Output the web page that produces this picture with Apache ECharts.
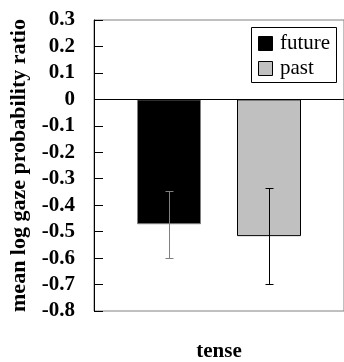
<!DOCTYPE html>
<html>
<head>
<meta charset="utf-8">
<script src="https://cdn.jsdelivr.net/npm/echarts@6/dist/echarts.min.js"></script>
<style>
  html, body { margin: 0; padding: 0; background: #fff; }
  #chart { width: 344px; height: 362px; }
</style>
</head>
<body>
<div id="chart"></div>
<script>
var categories = ['tense']
var seriesNames = ['future', 'past']
var seriesColors = ['#000', '#c0c0c0']
var futureMean = [-0.472]
var pastMean = [-0.517]
var futureErr = [0.126]
var pastErr = [0.182]

var barWidth = 64
var barGapPx = 36
var serif = 'Liberation Serif'

function errorData(mean, err) {
  return mean.map(function (m, i) {
    return [i, m - err[i], m + err[i]]
  })
}

// 误差线
function errorBar(offset, color) {
  return function (params, api) {
    var lo = api.coord([api.value(0), api.value(1)])
    var hi = api.coord([api.value(0), api.value(2)])
    var x = Math.round(lo[0] + offset) + 0.5
    var y1 = Math.round(lo[1]) + 0.5
    var y2 = Math.round(hi[1]) + 0.5
    var style = { stroke: color, lineWidth: 1 }
    return {
      type: 'group',
      children: [
        { type: 'line', shape: { x1: x, y1: y1, x2: x, y2: y2 }, style: style },
        { type: 'line', shape: { x1: x - 4, y1: y1, x2: x + 4, y2: y1 }, style: style },
        { type: 'line', shape: { x1: x - 4, y1: y2, x2: x + 4, y2: y2 }, style: style }
      ]
    }
  }
}

// 图例 (legend.textStyle 的字体不生效, 用 graphic 画)
function legendGraphic() {
  var children = [{
    type: 'rect',
    shape: { x: 0.5, y: 0.5, width: 85, height: 55 },
    style: { fill: '#fff', stroke: '#000', lineWidth: 1 }
  }]
  seriesNames.forEach(function (name, i) {
    var y = 9.5 + i * 25
    children.push({
      type: 'rect',
      shape: { x: 7.5, y: y, width: 14, height: 14 },
      style: { fill: seriesColors[i], stroke: '#000', lineWidth: 1 }
    })
    children.push({
      type: 'text',
      x: 29,
      y: y + 7,
      style: {
        text: name,
        fontFamily: serif,
        fontSize: 21,
        fill: '#000',
        verticalAlign: 'middle'
      }
    })
  })
  return [{ type: 'group', left: 251, top: 27, z: 100, children: children }]
}

var chart = echarts.init(document.getElementById('chart'), null, { renderer: 'canvas' })
var half = (barWidth + barGapPx) / 2

chart.setOption({
  animation: false,
  backgroundColor: '#fff',
  textStyle: { fontFamily: serif, color: '#000' },
  grid: {
    left: 91,
    right: 0,
    top: 20,
    bottom: 49,
    show: true,
    borderColor: '#808080',
    borderWidth: 1
  },
  graphic: legendGraphic(),
  xAxis: {
    type: 'category',
    data: categories,
    axisLine: { onZero: false, show: false },
    axisTick: { show: false },
    axisLabel: {
      margin: 30,
      fontFamily: serif,
      fontWeight: 'bold',
      fontSize: 21,
      color: '#000'
    }
  },
  yAxis: {
    type: 'value',
    min: -0.8,
    max: 0.3,
    interval: 0.1,
    name: 'mean log gaze probability ratio',
    nameLocation: 'middle',
    nameGap: 64,
    nameTextStyle: {
      fontFamily: serif,
      fontWeight: 'bold',
      fontSize: 22,
      color: '#000'
    },
    axisLine: { show: true, lineStyle: { color: '#000' } },
    axisTick: { show: true, inside: true, length: 9, lineStyle: { color: '#000' } },
    splitLine: { show: false },
    axisLabel: {
      margin: 19,
      fontFamily: serif,
      fontWeight: 'bold',
      fontSize: 21,
      color: '#000',
      formatter: function (v) {
        return Math.abs(v) < 1e-9 ? '0' : v.toFixed(1)
      }
    }
  },
  series: [
    {
      name: seriesNames[0],
      type: 'bar',
      data: futureMean,
      barWidth: barWidth,
      barGap: (barGapPx / barWidth * 100) + '%',
      itemStyle: { color: seriesColors[0], borderColor: '#808080', borderWidth: 1 },
      markLine: {
        silent: true,
        symbol: 'none',
        label: { show: false },
        lineStyle: { color: '#000', type: 'solid', width: 1 },
        data: [{ yAxis: 0 }]
      }
    },
    {
      name: seriesNames[1],
      type: 'bar',
      data: pastMean,
      barWidth: barWidth,
      itemStyle: { color: seriesColors[1], borderColor: '#000', borderWidth: 1 }
    },
    {
      type: 'custom',
      renderItem: errorBar(-half, '#808080'),
      data: errorData(futureMean, futureErr),
      z: 10
    },
    {
      type: 'custom',
      renderItem: errorBar(half, '#000'),
      data: errorData(pastMean, pastErr),
      z: 10
    }
  ]
})
</script>
</body>
</html>
